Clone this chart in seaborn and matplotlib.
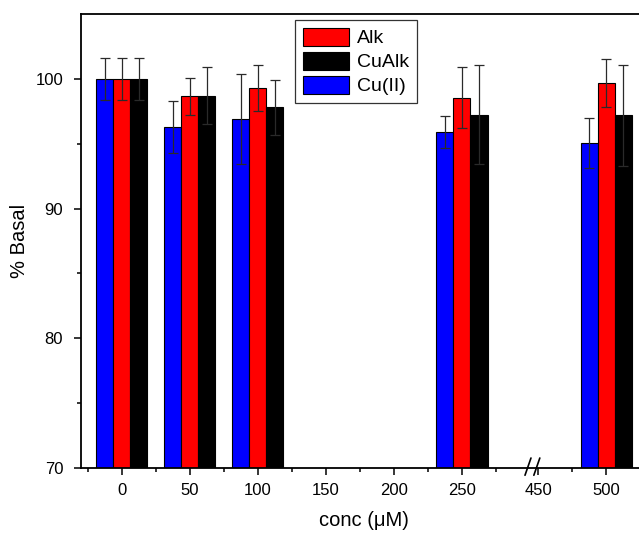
import numpy as np
import pandas as pd
import matplotlib
matplotlib.use("Agg")
import matplotlib.pyplot as plt
import matplotlib.patches as mpatches
import matplotlib.transforms as mtransforms
import seaborn as sns

# Concentrations (uM) and mean % basal response with error
conc = [0, 50, 100, 250, 500]
cu_ii = [100.0, 96.3, 96.9, 95.9, 95.05]
alk = [100.0, 98.65, 99.3, 98.55, 99.65]
cualk = [100.0, 98.7, 97.8, 97.25, 97.2]
cu_ii_err = [1.6, 2.0, 3.45, 1.25, 1.9]
alk_err = [1.6, 1.45, 1.8, 2.35, 1.85]
cualk_err = [1.6, 2.2, 2.15, 3.85, 3.9]

series_names = ["Cu(II)", "Alk", "CuAlk"]
legend_order = ["Alk", "CuAlk", "Cu(II)"]
series_colors = {"Cu(II)": "#0000ff", "Alk": "#ff0000", "CuAlk": "#000000"}

x_ticks = [0, 50, 100, 150, 200, 250, 450, 500]
x_minor = [-25, 25, 75, 125, 175, 225, 275, 475, 525]

# broken x axis: the stretch between 300 and 444 uM is left out
BREAK_LO, BREAK_HI = 300, 444


def axis_pos(c):
    c = np.asarray(c, dtype=float)
    return np.where(c <= BREAK_LO, c, c - (BREAK_HI - BREAK_LO))


means = {"Cu(II)": cu_ii, "Alk": alk, "CuAlk": cualk}
errs = {"Cu(II)": cu_ii_err, "Alk": alk_err, "CuAlk": cualk_err}

df = pd.DataFrame(
    [
        {"pos": float(axis_pos(c)), "conc": c, "series": s, "value": means[s][i], "err": errs[s][i]}
        for s in series_names
        for i, c in enumerate(conc)
    ]
)

sns.set_theme(style="ticks")
plt.rcParams["font.family"] = ["Liberation Sans", "DejaVu Sans"]
plt.rcParams["text.color"] = "black"
plt.rcParams["axes.labelcolor"] = "black"

fig = plt.figure(figsize=(6.39, 5.33), dpi=100)
ax = fig.add_axes([81 / 639, 65 / 533, 0.905, 454 / 533])

sns.barplot(
    data=df, x="pos", y="value", hue="series", hue_order=series_names,
    palette=series_colors, native_scale=True, width=0.75, errorbar=None,
    edgecolor="black", linewidth=0.8, saturation=1, legend=False, ax=ax,
)

# error bars on top of each bar
for name, container in zip(series_names, ax.containers):
    sub = df[df.series == name].sort_values("pos")
    xs = [b.get_x() + b.get_width() / 2 for b in container]
    hs = [b.get_height() for b in container]
    ax.errorbar(xs, hs, yerr=sub["err"].values, fmt="none", ecolor="#2a2a2a",
                elinewidth=0.9, capsize=3.5, capthick=0.9, zorder=5)

ax.set_ylim(70, 105)
ax.set_xlim(-30, 395)
ax.set_yticks([70, 80, 90, 100])
ax.set_yticks([75, 85, 95], minor=True)
ax.set_xticks(axis_pos(x_ticks))
ax.set_xticklabels([str(t) for t in x_ticks])
ax.set_xticks(axis_pos(x_minor), minor=True)

for side in ["left", "bottom", "top"]:
    ax.spines[side].set_visible(True)
    ax.spines[side].set_linewidth(1.3)
    ax.spines[side].set_color("black")
ax.spines["right"].set_visible(False)

ax.tick_params(axis="both", which="major", direction="out", length=4.8, width=1.1,
               labelsize=12, pad=6, colors="black")
ax.tick_params(axis="both", which="minor", direction="out", length=3, width=1.1,
               colors="black")
ax.tick_params(axis="y", which="major", pad=8)
ax.tick_params(top=False, right=False, which="both")

ax.set_xlabel("conc (\u03bcM)", fontsize=14.5, color="black")
ax.set_ylabel("% Basal", fontsize=14.5, color="black")
ax.xaxis.set_label_coords(0.489, -0.095)
ax.yaxis.set_label_coords(-0.09, 0.5)

# break marks on the x axis
trans = mtransforms.blended_transform_factory(ax.transData, ax.transAxes)
for bx in [BREAK_LO - 1.5, BREAK_LO + 5]:
    ax.plot([bx - 2.2, bx + 2.2], [-0.016, 0.022], color="black", lw=1.2,
            transform=trans, clip_on=False, zorder=6)

handles = [mpatches.Patch(facecolor=series_colors[n], edgecolor="black", linewidth=0.8, label=n)
           for n in legend_order]
leg = ax.legend(handles=handles, loc="upper left", bbox_to_anchor=(295 / 639, 1 - 20 / 533),
                bbox_transform=fig.transFigure, borderaxespad=0, fontsize=14,
                handlelength=2.4, handleheight=1.05, handletextpad=0.4, labelspacing=0.22,
                borderpad=0.4, fancybox=False, framealpha=1, labelcolor="black")
leg.get_frame().set_edgecolor("#333333")
leg.get_frame().set_linewidth(0.9)

fig.savefig("out.png", dpi=100)
